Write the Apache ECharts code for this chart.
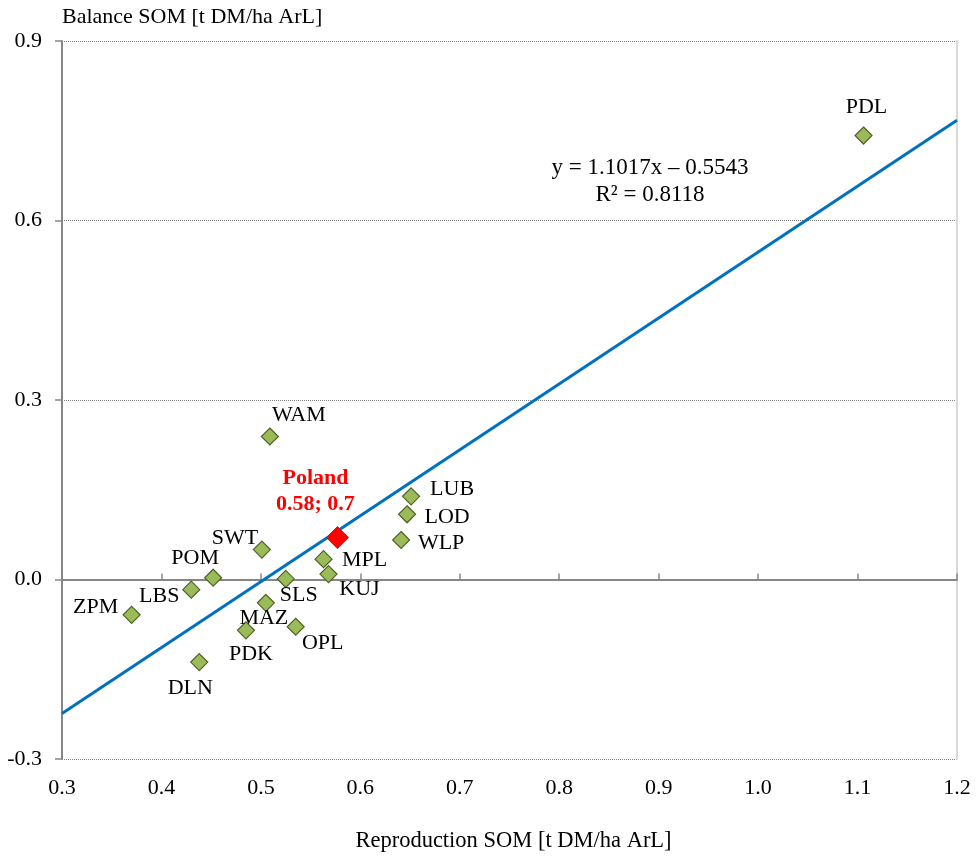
<!DOCTYPE html>
<html>
<head>
<meta charset="utf-8">
<script src="https://cdn.jsdelivr.net/npm/echarts@6/dist/echarts.min.js"></script>
<style>
  html, body { margin: 0; padding: 0; background: #fff; }
  #chart { width: 976px; height: 858px; }
</style>
</head>
<body>
<div id="chart"></div>
<script>
// voivodeship codes and their values (reproduction, balance)
var regions = ['PDL', 'WAM', 'LUB', 'LOD', 'WLP', 'SWT', 'MPL', 'KUJ', 'POM', 'SLS', 'LBS', 'ZPM', 'MAZ', 'PDK', 'OPL', 'DLN'];
var reproduction = [1.106, 0.509, 0.651, 0.647, 0.641, 0.501, 0.563, 0.568, 0.452, 0.525, 0.430, 0.370, 0.505, 0.485, 0.535, 0.438];
var balance = [0.742, 0.239, 0.139, 0.109, 0.066, 0.050, 0.034, 0.009, 0.003, 0.001, -0.017, -0.059, -0.039, -0.085, -0.079, -0.138];
// Poland average
var polandPoint = [0.577, 0.07];
// linear trend end points
var trendLine = [[0.3, -0.2238], [1.2, 0.7677]];
var xTicks = { min: 0.3, max: 1.2, step: 0.1 };
var yTicks = { min: -0.3, max: 0.9, step: 0.3 };

var FONT = '"Liberation Serif", "Times New Roman", serif';

// label offsets from the marker centre (px)
var labelOffset = {
  PDL: [3, -28], WAM: [29, -21], LUB: [41, -7], LOD: [40, 3], WLP: [40, 3],
  SWT: [-27, -11], MPL: [41, 1], KUJ: [31, 15], POM: [-18, -19], SLS: [13, 16],
  LBS: [-32, 7], ZPM: [-36, -8], MAZ: [-2, 15], PDK: [5, 24], OPL: [27, 16], DLN: [-9, 26]
};

var pointData = regions.map(function (name, i) {
  return {
    name: name,
    value: [reproduction[i], balance[i]],
    label: { offset: labelOffset[name] }
  };
});

var chart = echarts.init(document.getElementById('chart'));

var option = {
  backgroundColor: '#fff',
  animation: false,
  textStyle: { fontFamily: FONT },
  grid: { left: 62, right: 19, top: 41, bottom: 95, containLabel: false },
  xAxis: [{
    type: 'value',
    min: xTicks.min,
    max: xTicks.max,
    interval: xTicks.step,
    position: 'bottom',
    name: 'Reproduction SOM [t DM/ha ArL]',
    nameLocation: 'middle',
    nameGap: 71,
    nameTextStyle: { fontFamily: FONT, fontSize: 22.5, color: '#000', padding: [0, 0, 0, 8] },
    axisLine: { show: false, onZero: false },
    axisTick: { show: false },
    splitLine: { show: false },
    axisLabel: {
      margin: 18, fontFamily: FONT, fontSize: 22, color: '#000',
      formatter: function (v) { return v.toFixed(1); }
    }
  }, {
    // zero line
    type: 'value',
    min: xTicks.min,
    max: xTicks.max,
    interval: xTicks.step,
    axisLine: { show: true, onZero: true, lineStyle: { color: '#868686', width: 2 } },
    axisTick: { show: true, length: 6, lineStyle: { color: '#868686', width: 1.5 } },
    axisLabel: { show: false },
    splitLine: { show: false }
  }],
  yAxis: [{
    type: 'value',
    min: yTicks.min,
    max: yTicks.max,
    interval: yTicks.step,
    name: 'Balance SOM [t DM/ha ArL]',
    nameLocation: 'end',
    nameGap: 13,
    nameTextStyle: { fontFamily: FONT, fontSize: 22, color: '#000', align: 'left' },
    axisLine: { show: true, onZero: false, lineStyle: { color: '#868686', width: 2 } },
    axisTick: { show: true, length: 7, lineStyle: { color: '#868686', width: 1.5 } },
    axisLabel: {
      margin: 20, fontFamily: FONT, fontSize: 22, color: '#000',
      formatter: function (v) { return v.toFixed(1); }
    },
    splitLine: { show: true, lineStyle: { color: '#808080', type: [1, 1], width: 1 } }
  }, {
    // right border
    type: 'value',
    min: yTicks.min,
    max: yTicks.max,
    interval: yTicks.step,
    position: 'right',
    axisLine: { show: true, onZero: false, lineStyle: { color: '#d9d9d9', width: 2 } },
    axisTick: { show: false },
    axisLabel: { show: false },
    splitLine: { show: false }
  }],
  graphic: [{
    type: 'text',
    x: 650,
    y: 168,
    style: {
      text: 'y = 1.1017x – 0.5543',
      fontFamily: FONT, fontSize: 23, fill: '#000',
      align: 'center', verticalAlign: 'middle'
    }
  }, {
    type: 'text',
    x: 650,
    y: 195,
    style: {
      text: 'R² = 0.8118',
      fontFamily: FONT, fontSize: 23, fill: '#000',
      align: 'center', verticalAlign: 'middle'
    }
  }],
  series: [{
    type: 'line',
    data: trendLine,
    showSymbol: false,
    symbol: 'none',
    lineStyle: { color: '#0070C0', width: 3 },
    z: 2
  }, {
    type: 'scatter',
    data: pointData,
    symbol: 'diamond',
    symbolSize: [17, 17],
    itemStyle: { color: '#9BBB59', borderColor: '#4F6228', borderWidth: 1.2, opacity: 1 },
    label: {
      show: true,
      position: 'inside',
      formatter: '{b}',
      fontFamily: FONT,
      fontSize: 22,
      color: '#000',
      align: 'center',
      verticalAlign: 'middle'
    },
    z: 3
  }, {
    type: 'scatter',
    data: [{ name: 'Poland', value: polandPoint }],
    symbol: 'diamond',
    symbolSize: [22, 22],
    itemStyle: { color: '#FF0000', borderColor: '#FF0000', opacity: 1 },
    label: {
      show: true,
      position: 'inside',
      offset: [-22, -46],
      formatter: function (p) {
        return 'Poland\n' + p.value[0].toFixed(2) + '; 0.7';
      },
      fontFamily: FONT,
      fontSize: 22,
      fontWeight: 'bold',
      lineHeight: 26,
      color: '#FF0000',
      align: 'center',
      verticalAlign: 'middle'
    },
    z: 4
  }]
};

chart.setOption(option);
</script>
</body>
</html>
